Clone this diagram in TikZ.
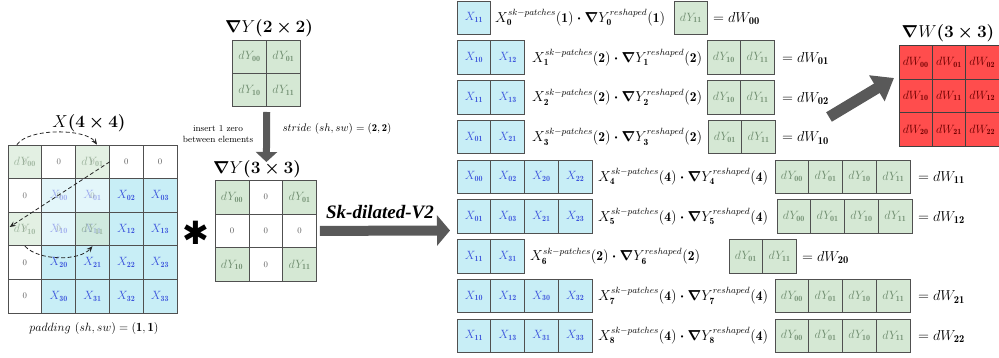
\documentclass[tikz,border=0pt]{standalone}
\usepackage{fontspec}
\usepackage{amsmath,bm}
\usetikzlibrary{arrows.meta,calc}
\newfontfamily\skfont{Liberation Serif}
\newfontfamily\symfont{DejaVu Sans}
\definecolor{cyanfill}{RGB}{200,238,246}
\definecolor{greenfill}{RGB}{213,232,212}
\definecolor{redfill}{RGB}{255,77,77}
\definecolor{xblue}{RGB}{60,85,220}
\definecolor{ygreen}{RGB}{110,140,110}
\definecolor{wred}{RGB}{110,0,0}
\definecolor{arrowgray}{RGB}{89,89,89}
\definecolor{cellline}{RGB}{80,80,80}
\tikzset{
  cellbase/.style={draw=cellline, line width=0.7pt, minimum width=33.8pt, minimum height=33.6pt, inner sep=0pt, font=\fontsize{12}{14}\selectfont},
  xcell/.style={cellbase, fill=cyanfill, text=xblue},
  ycell/.style={cellbase, fill=greenfill, text=ygreen},
  zcell/.style={cellbase, fill=white, text=black!65, font=\fontsize{8.5}{10}\selectfont},
  ovg/.style={cellbase, fill=greenfill, fill opacity=0.65, text=ygreen, text opacity=0.6},
  ovz/.style={cellbase, fill=white, fill opacity=0.5, text=black!65, text opacity=0.5, font=\fontsize{8.5}{10}\selectfont},
  wcell/.style={cellbase, fill=redfill, text=wred, draw=black!75, minimum width=33.3pt, minimum height=33.9pt, font=\fontsize{12}{14}\selectfont},
  title/.style={inner sep=0pt, font=\fontsize{16}{19}\selectfont},
  formula/.style={anchor=base west, inner sep=0pt, font=\fontsize{13.5}{16}\selectfont},
  eqw/.style={anchor=base west, inner sep=0pt, font=\fontsize{15}{17}\selectfont},
  fatarrow/.style={draw=arrowgray, line width=7pt, -{Triangle[length=10pt,width=21pt]}},
  dasharrow/.style={draw=black!85, dash pattern=on 4pt off 2.5pt, line width=0.8pt, -{Stealth[length=6pt,width=5pt]}},
}
\begin{document}
\begin{tikzpicture}[x=1pt,y=-1pt]
\path[use as bounding box] (0,0) rectangle (999,358);

% ---------- padded X grid ----------
\node[title] (Xtitle) at (89,123) {$X\bm{(4\times 4)}$};
\foreach \c in {0,...,4} \node[zcell] (L-0-\c) at ({24.9+33.8*\c},161.8) {0};
\foreach \r in {1,...,4} \node[zcell] (L-\r-0) at (24.9,{161.8+33.6*\r}) {0};
\foreach \r in {1,...,4} \foreach \c in {1,...,4} {
  \pgfmathtruncatemacro\a{\r-1}\pgfmathtruncatemacro\b{\c-1}
  \node[xcell] (L-\r-\c) at ({24.9+33.8*\c},{161.8+33.6*\r}) {$X_{\mathbf{\a\b}}$};
}
% overlaid dilated kernel
\node[ovg] (O-0-0) at (L-0-0) {$dY_{\mathbf{00}}$};
\node[ovz] (O-0-1) at (L-0-1) {0};
\node[ovg] (O-0-2) at (L-0-2) {$dY_{\mathbf{01}}$};
\node[ovz] (O-1-0) at (L-1-0) {0};
\node[ovz] (O-1-1) at (L-1-1) {0};
\node[ovz] (O-1-2) at (L-1-2) {0};
\node[ovg] (O-2-0) at (L-2-0) {$dY_{\mathbf{10}}$};
\node[ovz] (O-2-1) at (L-2-1) {0};
\node[ovg] (O-2-2) at (L-2-2) {$dY_{\mathbf{11}}$};
\draw[dasharrow] ([xshift=-8pt]L-0-0.north) .. controls +(12,-17) and +(-11,-16) .. ([xshift=4.5pt]L-0-2.north);
\draw[dasharrow] (L-0-2.east) -- ([xshift=2pt,yshift=2pt]L-2-0.west);
\draw[dasharrow] (L-2-0.south) .. controls +(14,15) and +(-13,15) .. (L-2-2.south);
\node[inner sep=0pt, anchor=base, font=\fontsize{12.5}{14}\selectfont] (pad) at (94,331) {$padding\ (sh,sw)=\mathbf{(1,1)}$};

\node (ast) at (196,233) {\symfont\fontsize{32}{32}\selectfont ✱};

% ---------- dY 2x2 ----------
\node[title] (Y2title) at (269,28) {$\bm{\nabla} Y\bm{(2\times 2)}$};
\node[ycell, minimum height=33.3pt] (Y2-00) at (249.5,56.7) {$dY_{\mathbf{00}}$};
\node[ycell, minimum height=33.3pt] (Y2-01) at (283.3,56.7) {$dY_{\mathbf{01}}$};
\node[ycell, minimum height=33.3pt] (Y2-10) at (249.5,90) {$dY_{\mathbf{10}}$};
\node[ycell, minimum height=33.3pt] (Y2-11) at (283.3,90) {$dY_{\mathbf{11}}$};
\node[align=center, inner sep=0pt, font=\fontsize{9}{11.5}\selectfont] (ins) at (218,134) {insert 1 zero\\between elements};
\node[inner sep=0pt, anchor=base, font=\fontsize{10.5}{12}\selectfont] (stride) at (337,131.5) {$stride\ (sh,sw)=\mathbf{(2,2)}$};
\coordinate (dtip) at (266.4,162);
\draw[fatarrow] ([yshift=-5pt]Y2-10.south east) -- (dtip);

% ---------- dY 3x3 ----------
\node[title] (Y3title) at (257,169) {$\bm{\nabla} Y\bm{(3\times 3)}$};
\node[ycell, minimum height=33.9pt] (Y3-00) at (232,197) {$dY_{\mathbf{00}}$};
\node[zcell, minimum height=33.9pt] (Y3-01) at (265.8,197) {0};
\node[ycell, minimum height=33.9pt] (Y3-02) at (299.6,197) {$dY_{\mathbf{01}}$};
\node[zcell, minimum height=33.9pt] (Y3-10) at (232,230.9) {0};
\node[zcell, minimum height=33.9pt] (Y3-11) at (265.8,230.9) {0};
\node[zcell, minimum height=33.9pt] (Y3-12) at (299.6,230.9) {0};
\node[ycell, minimum height=33.9pt] (Y3-20) at (232,264.8) {$dY_{\mathbf{10}}$};
\node[zcell, minimum height=33.9pt] (Y3-21) at (265.8,264.8) {0};
\node[ycell, minimum height=33.9pt] (Y3-22) at (299.6,264.8) {$dY_{\mathbf{11}}$};

% ---------- Sk-dilated arrow ----------
\coordinate (sktip) at (450,230.5);
\draw[draw=arrowgray, line width=10pt, -{Triangle[length=13pt,width=30pt]}] ([xshift=3pt]Y3-12.east) -- (sktip);
\node[anchor=base, inner sep=0pt, font=\skfont\bfseries\itshape\fontsize{19}{22}\selectfont] (sk) at (380,219) {Sk-dilated-V2};

% ---------- rows ----------
\foreach \i/\xs/\n/\fx/\gs/\gx/\wx/\w in {
  0/{11}/1/495/{11}/674/713/00,
  1/{10,12}/2/532/{10,11}/707/782/01,
  2/{11,13}/2/532/{10,11}/707/782/02,
  3/{01,21}/2/532/{01,11}/708/782/10,
  4/{00,02,20,22}/4/598/{00,01,10,11}/775/918/11,
  5/{01,03,21,23}/4/598/{00,01,10,11}/777/918/12,
  6/{11,31}/2/530/{01,11}/729/802/20,
  7/{10,12,30,32}/4/598/{00,01,10,11}/775/918/21,
  8/{11,13,31,33}/4/598/{00,01,10,11}/775/918/22} {
  \pgfmathsetmacro\yc{17.75+39.75*\i}
  \foreach \lab [count=\k from 0] in \xs
    \node[xcell, minimum height=33.5pt] (R\i-X\k) at ({473.9+33.8*\k},\yc) {$X_{\mathbf{\lab}}$};
  \node[formula] (R\i-F) at (\fx,\yc+4.6) {$X^{sk-patches}_{\mathbf{\i}}\mathbf{(\n)}\bm{\cdot}\bm{\nabla} Y^{reshaped}_{\mathbf{\i}}\mathbf{(\n)}$};
  \foreach \lab [count=\k from 0] in \gs
    \node[ycell, minimum height=33.5pt] (R\i-G\k) at ({\gx+16.9+33.8*\k},\yc) {$dY_{\mathbf{\lab}}$};
  \node[eqw] (R\i-W) at (\wx,\yc+5) {$=dW_{\mathbf{\w}}$};
}

% ---------- dW 3x3 ----------
\node[title] (Wtitle) at (948,33) {$\bm{\nabla} W\bm{(3\times 3)}$};
\foreach \r in {0,1,2} \foreach \c in {0,1,2}
  \node[wcell] (W-\r-\c) at ({915.65+33.3*\c},{62+33.9*\r}) {$dW_{\mathbf{\r\c}}$};
\coordinate (dgtail) at (829,117);
\coordinate (dgtip) at (894,78);
\draw[draw=arrowgray, line width=11pt, -{Triangle[length=20pt,width=29pt]}] (dgtail) -- (dgtip);
\end{tikzpicture}
\end{document}
